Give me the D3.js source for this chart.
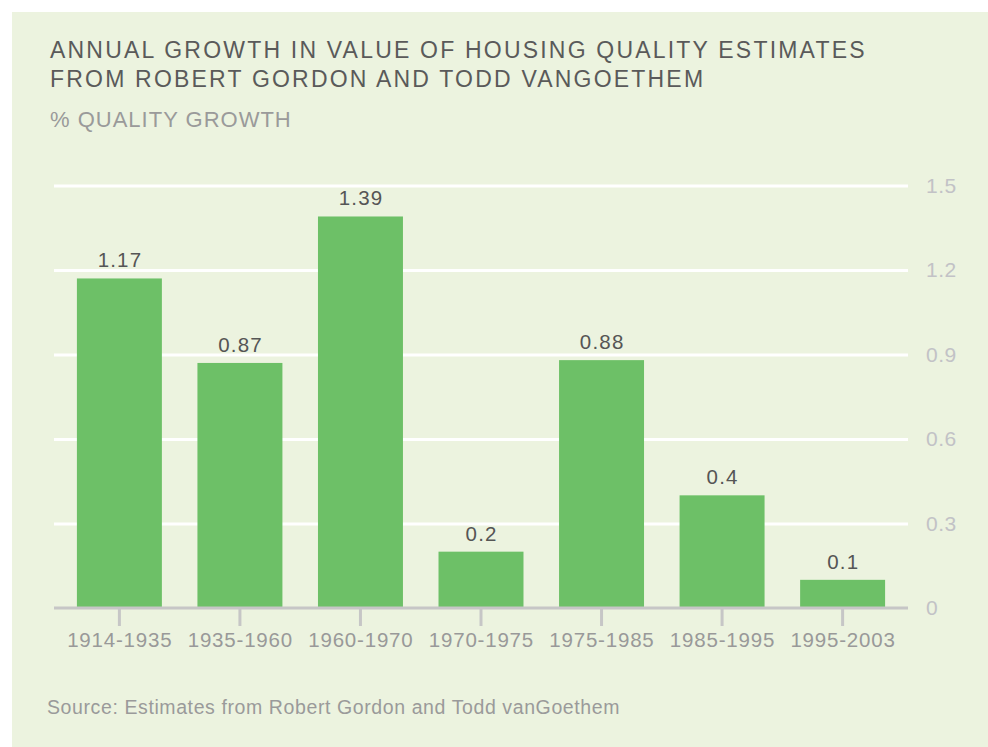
<!DOCTYPE html>
<html lang="en">
<head>
  <meta charset="UTF-8" />
  <title>Annual growth in value of housing quality</title>
  <script src="https://d3js.org/d3.v7.min.js"></script>
  <style>
    body { margin: 0; background: #fff; }
    svg { display: block; font-family: "Liberation Sans", Arial, Helvetica, sans-serif; }
  </style>
</head>
<body>
<div id="chart"></div>
<script>
// data
const periods = ["1914-1935", "1935-1960", "1960-1970", "1970-1975", "1975-1985", "1985-1995", "1995-2003"];
const growth = [1.17, 0.87, 1.39, 0.2, 0.88, 0.4, 0.1];
const yTicks = [0, 0.3, 0.6, 0.9, 1.2, 1.5];

const width = 988, height = 747;
const plotLeft = 54, plotRight = 908, plotBottom = 608, plotTop = 185.5;

const svg = d3.select("#chart").append("svg")
  .attr("width", width)
  .attr("height", height);

// panel
svg.append("rect")
  .attr("x", 12).attr("y", 12)
  .attr("width", width - 12).attr("height", height - 12)
  .attr("fill", "#ecf3df");

// titles
svg.append("text")
  .attr("x", 50).attr("y", 58)
  .attr("fill", "#5a5a5a")
  .attr("font-size", 23)
  .attr("letter-spacing", 2.2)
  .text("ANNUAL GROWTH IN VALUE OF HOUSING QUALITY ESTIMATES");
svg.append("text")
  .attr("x", 50).attr("y", 87)
  .attr("fill", "#5a5a5a")
  .attr("font-size", 23)
  .attr("letter-spacing", 2.2)
  .text("FROM ROBERT GORDON AND TODD VANGOETHEM");
svg.append("text")
  .attr("x", 50).attr("y", 127)
  .attr("fill", "#9a9a9a")
  .attr("font-size", 22)
  .attr("letter-spacing", 1)
  .text("% QUALITY GROWTH");

const x = d3.scaleBand()
  .domain(periods)
  .range([plotLeft, plotRight])
  .paddingInner(0.295)
  .paddingOuter(0.19);

const y = d3.scaleLinear()
  .domain([0, 1.5])
  .range([plotBottom, plotTop]);

// gridlines + right labels
const grid = svg.append("g")
  .attr("transform", `translate(${plotRight},0)`)
  .call(d3.axisRight(y).tickValues(yTicks).tickFormat(d3.format("")).tickSize(-(plotRight - plotLeft)).tickPadding(18));
grid.select(".domain").remove();
grid.selectAll(".tick line")
  .attr("stroke", "#ffffff")
  .attr("stroke-width", 3)
  .attr("display", d => d === 0 ? "none" : null);
grid.selectAll(".tick text")
  .attr("fill", "#c2c2c6")
  .attr("font-size", 21)
  .attr("letter-spacing", 0.5)
  .attr("font-family", null);

// bars
svg.append("g").selectAll("rect")
  .data(growth)
  .join("rect")
  .attr("x", (d, i) => x(periods[i]))
  .attr("y", d => y(d))
  .attr("width", x.bandwidth())
  .attr("height", d => y(0) - y(d))
  .attr("fill", "#6dc067");

// value labels
svg.append("g").selectAll("text")
  .data(growth)
  .join("text")
  .attr("x", (d, i) => x(periods[i]) + x.bandwidth() / 2 + 0.6)
  .attr("y", d => y(d) - 11)
  .attr("text-anchor", "middle")
  .attr("fill", "#555555")
  .attr("font-size", 20.5)
  .attr("letter-spacing", 1.2)
  .text(d => d);

// x axis
const xAxis = svg.append("g")
  .attr("transform", `translate(0,${plotBottom})`)
  .call(d3.axisBottom(x).tickSize(18).tickSizeOuter(0).tickPadding(6));
xAxis.select(".domain")
  .attr("stroke", "#c6c6c6")
  .attr("stroke-width", 3)
  .attr("d", `M${plotLeft},0H${plotRight}`);
xAxis.selectAll(".tick line")
  .attr("stroke", "#c6c6c6")
  .attr("stroke-width", 3);
xAxis.selectAll(".tick text")
  .attr("fill", "#999999")
  .attr("font-size", 20.5)
  .attr("letter-spacing", 0.8)
  .attr("dx", 0.4)
  .attr("font-family", null);

// source
svg.append("text")
  .attr("x", 47).attr("y", 714)
  .attr("fill", "#9a9a9a")
  .attr("font-size", 19.5)
  .attr("letter-spacing", 0.6)
  .text("Source: Estimates from Robert Gordon and Todd vanGoethem");
</script>
</body>
</html>
